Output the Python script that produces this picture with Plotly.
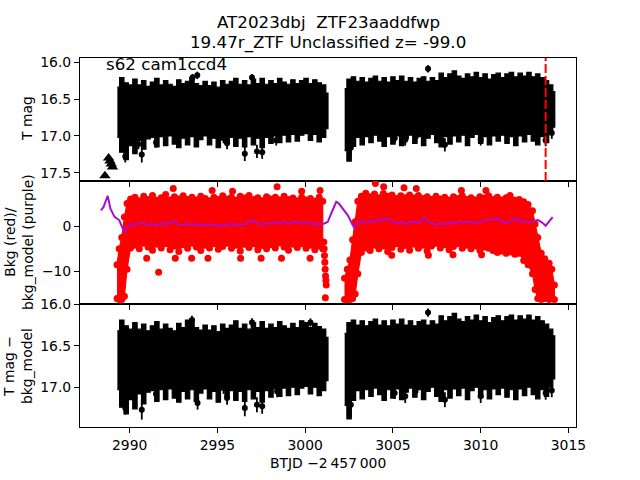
import plotly.graph_objects as go
from plotly.subplots import make_subplots

# ---------------- data ----------------
# dense light-curve band: time grid with upper / lower envelopes
t_seg1 = [2989.30, 2989.55, 2989.80, 2990.05, 2990.30, 2990.55, 2990.80, 2991.05, 2991.30, 2991.55,
          2991.80, 2992.05, 2992.30, 2992.55, 2992.80, 2993.05, 2993.30, 2993.55, 2993.80, 2994.05,
          2994.30, 2994.55, 2994.80, 2995.05, 2995.30, 2995.55, 2995.80, 2996.05, 2996.30, 2996.55,
          2996.80, 2997.05, 2997.30, 2997.55, 2997.80, 2998.05, 2998.30, 2998.55, 2998.80, 2999.05,
          2999.30, 2999.55, 2999.80, 3000.05, 3000.30, 3000.55, 3000.80, 3001.05, 3001.30]
t_seg2 = [3002.25, 3002.50, 3002.75, 3003.00, 3003.25, 3003.50, 3003.75, 3004.00, 3004.25, 3004.50,
          3004.75, 3005.00, 3005.25, 3005.50, 3005.75, 3006.00, 3006.25, 3006.50, 3006.75, 3007.00,
          3007.25, 3007.50, 3007.75, 3008.00, 3008.25, 3008.50, 3008.75, 3009.00, 3009.25, 3009.50,
          3009.75, 3010.00, 3010.25, 3010.50, 3010.75, 3011.00, 3011.25, 3011.50, 3011.75, 3012.00,
          3012.25, 3012.50, 3012.75, 3013.00, 3013.25, 3013.50, 3013.75, 3014.00, 3014.22]

# top panel: T mag
top_up1 = [16.34, 16.21, 16.28, 16.31, 16.23, 16.31, 16.25, 16.33, 16.27, 16.22,
           16.31, 16.25, 16.30, 16.33, 16.24, 16.29, 16.26, 16.21, 16.29, 16.32,
           16.26, 16.32, 16.27, 16.34, 16.25, 16.30, 16.26, 16.22, 16.30, 16.25,
           16.31, 16.23, 16.29, 16.22, 16.30, 16.25, 16.29, 16.22, 16.27, 16.30,
           16.24, 16.29, 16.25, 16.22, 16.29, 16.24, 16.28, 16.31, 16.42]
top_lo1 = [17.02, 17.22, 17.32, 17.13, 17.24, 17.06, 17.18, 17.04, 17.02, 17.15,
           17.01, 17.13, 17.00, 17.11, 17.16, 17.03, 17.12, 17.01, 17.15, 17.05,
           17.00, 17.12, 17.03, 17.16, 17.01, 17.10, 17.02, 17.14, 17.03, 17.15,
           17.01, 17.12, 17.03, 17.16, 17.02, 17.10, 17.00, 17.09, 16.99, 17.08,
           16.98, 17.07, 16.99, 16.97, 17.06, 16.98, 17.08, 17.02, 16.90]
top_up2 = [16.36, 16.23, 16.20, 16.26, 16.21, 16.27, 16.22, 16.19, 16.26, 16.21,
           16.27, 16.20, 16.25, 16.19, 16.26, 16.21, 16.27, 16.22, 16.20, 16.26,
           16.21, 16.25, 16.15, 16.21, 16.16, 16.12, 16.19, 16.22, 16.16, 16.20,
           16.14, 16.21, 16.16, 16.23, 16.17, 16.15, 16.21, 16.16, 16.14, 16.20,
           16.15, 16.19, 16.14, 16.20, 16.16, 16.21, 16.25, 16.31, 16.40]
top_lo2 = [17.20, 17.34, 17.14, 17.02, 17.12, 17.01, 17.09, 16.99, 17.07, 17.14,
           17.01, 17.11, 17.00, 17.13, 17.04, 16.99, 17.10, 17.01, 17.13, 17.03,
           16.98, 17.09, 17.15, 17.01, 17.11, 17.00, 17.08, 16.99, 17.13, 17.02,
           16.98, 17.10, 17.01, 17.12, 17.00, 17.07, 16.99, 17.10, 17.01, 17.13,
           17.00, 17.08, 16.98, 17.07, 17.12, 17.01, 17.09, 16.98, 16.88]

top_out_t = [2989.75, 2990.50, 2990.69, 2991.50, 2993.58, 2993.85, 2995.35, 2995.55, 2996.56, 2996.97,
             2997.25, 2997.55, 2998.35, 3002.60, 3005.10, 3005.70, 3006.40, 3007.00, 3007.96, 3010.00,
             3013.70, 3014.05]
top_out_m = [17.28, 17.11, 17.25, 17.09, 16.21, 16.18, 17.03, 17.10, 17.24, 16.21,
             17.21, 17.22, 17.06, 17.16, 17.03, 17.05, 16.97, 16.09, 17.12, 17.05,
             17.06, 16.96]
top_out_e = [0.08, 0.07, 0.11, 0.07, 0.05, 0.05, 0.07, 0.08, 0.10, 0.05,
             0.09, 0.09, 0.07, 0.13, 0.07, 0.08, 0.07, 0.05, 0.09, 0.08,
             0.08, 0.08]

tri_t = [2988.59, 2988.80, 2988.88, 2988.95, 2989.02]
tri_m = [17.54, 17.30, 17.34, 17.38, 17.42]

marker_line_t = 3013.70

# bottom panel: T mag - bkg_model
bot_up1 = [16.32, 16.19, 16.26, 16.30, 16.22, 16.30, 16.24, 16.32, 16.26, 16.21,
           16.30, 16.24, 16.29, 16.32, 16.23, 16.28, 16.19, 16.18, 16.28, 16.31,
           16.25, 16.31, 16.26, 16.33, 16.24, 16.29, 16.25, 16.20, 16.29, 16.24,
           16.30, 16.22, 16.28, 16.21, 16.29, 16.24, 16.28, 16.21, 16.26, 16.29,
           16.23, 16.28, 16.20, 16.22, 16.28, 16.23, 16.27, 16.30, 16.40]
bot_lo1 = [17.03, 17.24, 17.32, 17.15, 17.26, 17.08, 17.20, 17.06, 17.04, 17.17,
           17.03, 17.15, 17.02, 17.13, 17.18, 17.05, 17.14, 17.03, 17.17, 17.07,
           17.02, 17.14, 17.05, 17.18, 17.03, 17.12, 17.04, 17.16, 17.05, 17.17,
           17.03, 17.14, 17.05, 17.18, 17.04, 17.12, 17.02, 17.11, 17.01, 17.10,
           17.00, 17.09, 17.01, 16.99, 17.08, 17.00, 17.10, 17.04, 16.92]
bot_up2 = [16.35, 16.22, 16.19, 16.25, 16.20, 16.26, 16.21, 16.18, 16.25, 16.20,
           16.26, 16.19, 16.24, 16.18, 16.25, 16.20, 16.26, 16.21, 16.19, 16.25,
           16.20, 16.24, 16.14, 16.20, 16.15, 16.11, 16.18, 16.21, 16.15, 16.19,
           16.13, 16.20, 16.15, 16.22, 16.16, 16.14, 16.20, 16.15, 16.13, 16.19,
           16.14, 16.18, 16.13, 16.19, 16.15, 16.20, 16.24, 16.30, 16.38]
bot_lo2 = [17.22, 17.38, 17.16, 17.04, 17.14, 17.03, 17.11, 17.01, 17.09, 17.16,
           17.03, 17.13, 17.02, 17.15, 17.06, 17.01, 17.12, 17.03, 17.15, 17.05,
           17.00, 17.11, 17.17, 17.03, 17.13, 17.02, 17.10, 17.01, 17.15, 17.04,
           17.00, 17.12, 17.03, 17.14, 17.02, 17.09, 17.01, 17.12, 17.03, 17.15,
           17.02, 17.10, 17.00, 17.09, 17.14, 17.03, 17.11, 17.00, 16.90]

bot_out_t = [2989.75, 2990.69, 2991.50, 2993.55, 2993.87, 2995.35, 2995.55, 2996.56, 2996.97, 2997.25,
             2997.55, 2998.40, 3000.30, 3002.60, 3005.10, 3005.70, 3006.40, 3007.00, 3007.96, 3010.00,
             3013.70, 3014.05]
bot_out_m = [17.25, 17.27, 17.08, 16.19, 17.19, 17.01, 17.13, 17.25, 16.22, 17.21,
             17.23, 17.05, 16.22, 17.21, 17.07, 17.11, 17.00, 16.10, 17.15, 17.11,
             17.07, 17.04]
bot_out_e = [0.08, 0.12, 0.07, 0.05, 0.08, 0.07, 0.08, 0.10, 0.05, 0.09,
             0.09, 0.07, 0.05, 0.14, 0.07, 0.08, 0.07, 0.05, 0.09, 0.08,
             0.08, 0.08]

# middle panel: background flux (red) envelopes
red_t1 = [2989.28, 2989.40, 2989.55, 2989.70, 2989.85, 2990.05,
          2990.30, 2990.55, 2990.80, 2991.05, 2991.30, 2991.55, 2991.80, 2992.05, 2992.30, 2992.55,
          2992.80, 2993.05, 2993.30, 2993.55, 2993.80, 2994.05, 2994.30, 2994.55, 2994.80, 2995.05,
          2995.30, 2995.55, 2995.80, 2996.05, 2996.30, 2996.55, 2996.80, 2997.05, 2997.30, 2997.55,
          2997.80, 2998.05, 2998.30, 2998.55, 2998.80, 2999.05, 2999.30, 2999.55, 2999.80, 3000.05,
          3000.30, 3000.55, 3000.80, 3001.00]
red_up1 = [-8.5, -5.0, -2.5, 2.0, 5.0, 6.0,
           6.4, 5.6, 6.6, 5.9, 6.8, 5.7, 6.3, 7.0, 5.8, 6.5,
           6.0, 6.7, 5.9, 6.4, 5.8, 6.6, 6.1, 5.6, 6.4, 5.9,
           6.7, 6.0, 6.4, 5.7, 6.6, 6.2, 6.8, 5.9, 6.3, 5.6,
           6.5, 6.0, 6.4, 5.8, 6.6, 5.9, 6.2, 5.6, 6.4, 5.8,
           6.1, 5.5, 6.4, 5.5]
red_lo1 = [-16.0, -16.2, -16.2, -15.5, -9.5, -4.8,
           -4.2, -5.0, -3.8, -4.6, -5.3, -4.0, -4.8, -3.9, -5.2, -4.4,
           -5.6, -4.1, -4.9, -3.8, -4.6, -5.4, -4.2, -4.8, -3.9, -5.1,
           -4.5, -3.8, -4.9, -4.2, -5.5, -4.0, -4.7, -3.9, -5.2, -4.3,
           -5.0, -4.1, -4.8, -3.7, -4.6, -5.3, -4.0, -4.7, -3.9, -4.9,
           -4.2, -5.2, -4.4, -5.0]

red_t2 = [3002.24, 3002.40, 3002.55, 3002.70, 3002.85, 3003.00, 3003.20,
          3003.45, 3003.70, 3003.95, 3004.20, 3004.45, 3004.70, 3004.95, 3005.20, 3005.45, 3005.70,
          3005.95, 3006.20, 3006.45, 3006.70, 3006.95, 3007.20, 3007.45, 3007.70, 3007.95, 3008.20,
          3008.45, 3008.70, 3008.95, 3009.20, 3009.45, 3009.70, 3009.95, 3010.20, 3010.45, 3010.70,
          3010.95, 3011.20, 3011.45, 3011.70, 3011.95, 3012.20, 3012.45, 3012.70,
          3012.95, 3013.10, 3013.25, 3013.45, 3013.65, 3013.90, 3014.05, 3014.20]
red_up2 = [-11.5, -9.5, -7.5, -3.0, 1.0, 5.5, 6.6,
           7.3, 6.5, 7.1, 6.3, 7.2, 6.6, 6.9, 6.1, 6.7, 6.3,
           6.9, 6.2, 6.8, 6.1, 6.5, 5.9, 6.6, 6.0, 6.4, 5.8,
           6.5, 6.1, 6.7, 5.9, 6.3, 5.8, 6.5, 6.2, 6.7, 5.9,
           6.4, 5.8, 6.3, 6.1, 5.7, 5.9, 5.4, 4.8,
           3.4, 0.5, -2.5, -6.0, -7.2, -8.2, -9.5, -13.0]
red_lo2 = [-16.2, -16.2, -16.2, -16.0, -15.0, -10.5, -5.8,
           -4.8, -5.4, -4.2, -5.0, -4.4, -5.6, -4.7, -3.9, -5.1, -4.3,
           -5.3, -4.0, -4.9, -4.2, -5.5, -4.4, -3.8, -4.8, -4.1, -5.2,
           -4.5, -3.9, -4.9, -4.2, -5.0, -4.4, -5.3, -4.6, -4.9, -5.4,
           -5.8, -5.5, -6.0, -5.7, -6.2, -6.0, -7.6, -8.5,
           -10.5, -14.0, -16.0, -16.2, -16.0, -16.2, -16.0, -16.2]

red_col_t = [3001.06, 3001.08, 3001.10, 3001.12, 3001.14, 3001.16, 3001.18, 3001.20, 3001.15]
red_col_v = [-3.5, -5.0, -6.5, -8.0, -9.5, -11.0, -12.0, -13.0, -15.8]

red_out_t = [2990.97, 2991.65, 2992.48, 2992.60, 2993.53, 2994.46, 2994.70, 2995.86, 2996.32, 2997.49,
             2998.40, 2998.65, 2999.80, 3000.28, 3000.85, 3004.00, 3004.47, 3004.93, 3005.63, 3006.33,
             3007.02, 3008.42, 3008.90, 3010.05, 3010.30, 3011.67]
red_out_v = [-7.1, -10.2, 8.3, -7.1, -7.1, -7.1, 7.9, 7.7, -7.1, -7.1,
             8.7, -7.1, 7.7, -7.1, 7.9, 9.4, 8.7, -6.4, 8.5, 8.3,
             -6.4, -6.3, 7.9, -6.3, 7.9, 6.8]

# background model (purple)
pur_t = [2988.37, 2988.52, 2988.62, 2988.75, 2988.90, 2989.13, 2989.41, 2989.55, 2989.70, 2989.89,
         2990.00, 2990.25, 2990.50, 2990.75, 2991.00, 2991.25, 2991.50, 2991.75, 2992.00, 2992.25,
         2992.50, 2992.75, 2993.00, 2993.25, 2993.50, 2993.75, 2994.00, 2994.25, 2994.50, 2994.75,
         2995.00, 2995.25, 2995.50, 2995.75, 2996.00, 2996.25, 2996.50, 2996.75, 2997.00, 2997.25,
         2997.50, 2997.75, 2998.00, 2998.25, 2998.50, 2998.75, 2999.00, 2999.25, 2999.50, 2999.75,
         3000.00, 3000.25, 3000.50, 3000.75, 3001.00,
         3001.15, 3001.29, 3001.48, 3001.62, 3001.77, 3001.92, 3002.15, 3002.43, 3002.71, 3002.81,
         3003.00, 3003.25, 3003.50, 3003.75, 3004.00, 3004.25, 3004.50, 3004.75, 3005.00, 3005.25,
         3005.50, 3005.75, 3006.00, 3006.25, 3006.50, 3006.75, 3007.00, 3007.25, 3007.50, 3007.75,
         3008.00, 3008.25, 3008.50, 3008.75, 3009.00, 3009.25, 3009.50, 3009.75, 3010.00, 3010.25,
         3010.50, 3010.75, 3011.00, 3011.25, 3011.50, 3011.75, 3012.00, 3012.25, 3012.50, 3012.75,
         3013.00, 3013.25, 3013.50, 3013.70, 3013.85, 3014.00, 3014.10]
pur_v = [3.5, 4.3, 5.4, 6.7, 3.9, 2.1, 1.3, 0.0, -1.4, -0.1,
         0.3, 0.6, 0.4, 0.8, 0.3, 0.5, 0.2, 0.7, 0.4, 0.6,
         1.1, 0.5, 0.2, 0.6, 0.3, 0.5, 0.1, 0.4, 0.2, 0.5,
         0.0, 0.3, 0.1, 0.6, 0.2, 0.5, 0.3, 0.8, 1.4, 0.6,
         0.3, 0.7, 0.5, 0.9, 0.6, 1.0, 0.5, 0.8, 1.1, 0.6,
         0.9, 0.7, 0.4, 0.6, 0.5,
         0.7, 0.95, 2.8, 4.2, 5.4, 5.0, 3.9, 2.4, 0.2, -0.4,
         1.0, 1.0, 0.7, 1.2, 0.9, 1.6, 1.3, 1.7, 0.9, 0.6,
         0.9, 0.4, 0.9, 1.0, 0.7, 1.8, 1.2, 0.6, 0.3, 0.7,
         0.4, 0.8, 0.6, 1.0, 0.7, 1.1, 0.8, 0.6, 0.9, 1.2,
         1.6, 1.4, 1.7, 1.0, 0.7, 1.3, 1.8, 0.9, 1.1, 0.8,
         1.0, 1.4, 0.8, 0.1, 0.9, 1.6, 2.0]

x_ticks = [2990, 2995, 3000, 3005, 3010, 3015]
top_ticks = [16.0, 16.5, 17.0, 17.5]
mid_ticks = [-10, 0]
bot_ticks = [16.0, 16.5, 17.0]

title_1 = "AT2023dbj\u00a0\u00a0ZTF23aaddfwp"
title_2 = "19.47r_ZTF Unclassified z= -99.0"
sector_text = "s62 cam1ccd4"

# ---------------- figure ----------------
FONT = "DejaVu Sans"
fig = make_subplots(rows=3, cols=1, shared_xaxes=True, vertical_spacing=0)


def band(t, up, lo, row, color, shape):
    fig.add_trace(go.Scatter(x=t + t[::-1], y=up + lo[::-1], mode="lines", fill="toself",
                             fillcolor=color, line=dict(color=color, width=1.2, shape=shape),
                             hoverinfo="skip", showlegend=False), row=row, col=1)


# top panel
band(t_seg1, top_up1, top_lo1, 1, "black", "hvh")
band(t_seg2, top_up2, top_lo2, 1, "black", "hvh")
fig.add_trace(go.Scatter(x=top_out_t, y=top_out_m, mode="markers",
                         marker=dict(color="black", size=6),
                         error_y=dict(type="data", array=top_out_e, color="black", thickness=1.8, width=0),
                         showlegend=False), row=1, col=1)
fig.add_trace(go.Scatter(x=tri_t, y=tri_m, mode="markers",
                         marker=dict(color="black", size=10, symbol="triangle-up"),
                         showlegend=False), row=1, col=1)

# middle panel
for t, up, lo in [(red_t1, red_up1, red_lo1), (red_t2, red_up2, red_lo2)]:
    band(t, up, lo, 2, "red", "linear")
    fig.add_trace(go.Scatter(x=t + t, y=up + lo, mode="markers",
                             marker=dict(color="red", size=7), showlegend=False), row=2, col=1)
fig.add_trace(go.Scatter(x=red_col_t + red_out_t, y=red_col_v + red_out_v, mode="markers",
                         marker=dict(color="red", size=7), showlegend=False), row=2, col=1)
fig.add_trace(go.Scatter(x=pur_t, y=pur_v, mode="lines",
                         line=dict(color="#A80FCC", width=2), showlegend=False), row=2, col=1)

# bottom panel
band(t_seg1, bot_up1, bot_lo1, 3, "black", "hvh")
band(t_seg2, bot_up2, bot_lo2, 3, "black", "hvh")
fig.add_trace(go.Scatter(x=bot_out_t, y=bot_out_m, mode="markers",
                         marker=dict(color="black", size=6),
                         error_y=dict(type="data", array=bot_out_e, color="black", thickness=1.8, width=0),
                         showlegend=False), row=3, col=1)

# dashed marker line (top panel only)
fig.add_shape(type="line", x0=marker_line_t, x1=marker_line_t, y0=0, y1=1,
              xref="x", yref="y domain", line=dict(color="red", width=2, dash="9px,3px"))

axis_common = dict(showline=True, linecolor="black", linewidth=1, mirror=True,
                   ticks="outside", ticklen=5, tickwidth=1, tickcolor="black",
                   showgrid=False, zeroline=False, automargin=False,
                   tickfont=dict(family=FONT, size=13.9, color="black"))

for r in (1, 2, 3):
    fig.update_xaxes(range=[2987.17, 3015.43], tickvals=x_ticks,
                     ticktext=[str(v) for v in x_ticks], showticklabels=(r == 3),
                     row=r, col=1, **axis_common)

fig.update_yaxes(range=[17.61, 15.945], tickvals=top_ticks,
                 ticktext=[f"{v:.1f}" for v in top_ticks], row=1, col=1, **axis_common)
fig.update_yaxes(range=[-17.2, 9.98], tickvals=mid_ticks,
                 ticktext=[f"{v}".replace("-", "\u2212") for v in mid_ticks], row=2, col=1, **axis_common)
fig.update_yaxes(range=[17.479, 15.997], tickvals=bot_ticks,
                 ticktext=[f"{v:.1f}" for v in bot_ticks], row=3, col=1, **axis_common)

PW, PH, L, T = 496.0, 369.0, 80.0, 58.0


def px(x):
    return (x - L) / PW


def py(y):
    return (T + PH - y) / PH


ann = []
lab_font = dict(family=FONT, size=13.9, color="black")
ann.append(dict(text=title_1, x=0.5, y=py(22), xref="paper", yref="paper", showarrow=False,
                xanchor="center", yanchor="middle", font=dict(family=FONT, size=16.7, color="black")))
ann.append(dict(text=title_2, x=0.5, y=py(43), xref="paper", yref="paper", showarrow=False,
                xanchor="center", yanchor="middle", font=dict(family=FONT, size=16.7, color="black")))
ann.append(dict(text=sector_text, x=px(104), y=py(64), xref="paper", yref="paper", showarrow=False,
                xanchor="left", yanchor="middle", font=dict(family=FONT, size=16.7, color="black")))
ann.append(dict(text="T mag", x=px(27), y=py(119), xref="paper", yref="paper", showarrow=False,
                textangle=-90, xanchor="center", yanchor="middle", font=lab_font))
ann.append(dict(text="Bkg (red)/<br>bkg_model (purple)", x=px(19), y=py(242), xref="paper", yref="paper",
                showarrow=False, textangle=-90, xanchor="center", yanchor="middle", font=lab_font))
ann.append(dict(text="T mag \u2212<br>bkg_model", x=px(18), y=py(366), xref="paper", yref="paper",
                showarrow=False, textangle=-90, xanchor="center", yanchor="middle", font=lab_font))
ann.append(dict(text="BTJD \u22122\u2009457\u2009000", x=0.5, y=py(463), xref="paper", yref="paper",
                showarrow=False, xanchor="center", yanchor="middle", font=lab_font))

fig.update_layout(width=640, height=480, autosize=False,
                  margin=dict(l=80, r=64, t=58, b=53, pad=0, autoexpand=False),
                  paper_bgcolor="white", plot_bgcolor="white",
                  showlegend=False, annotations=ann,
                  font=dict(family=FONT, color="black"))

fig.write_html("out.html", config={"displayModeBar": False, "responsive": False},
               post_script="document.body.style.margin='0px';document.body.style.padding='0px';")
